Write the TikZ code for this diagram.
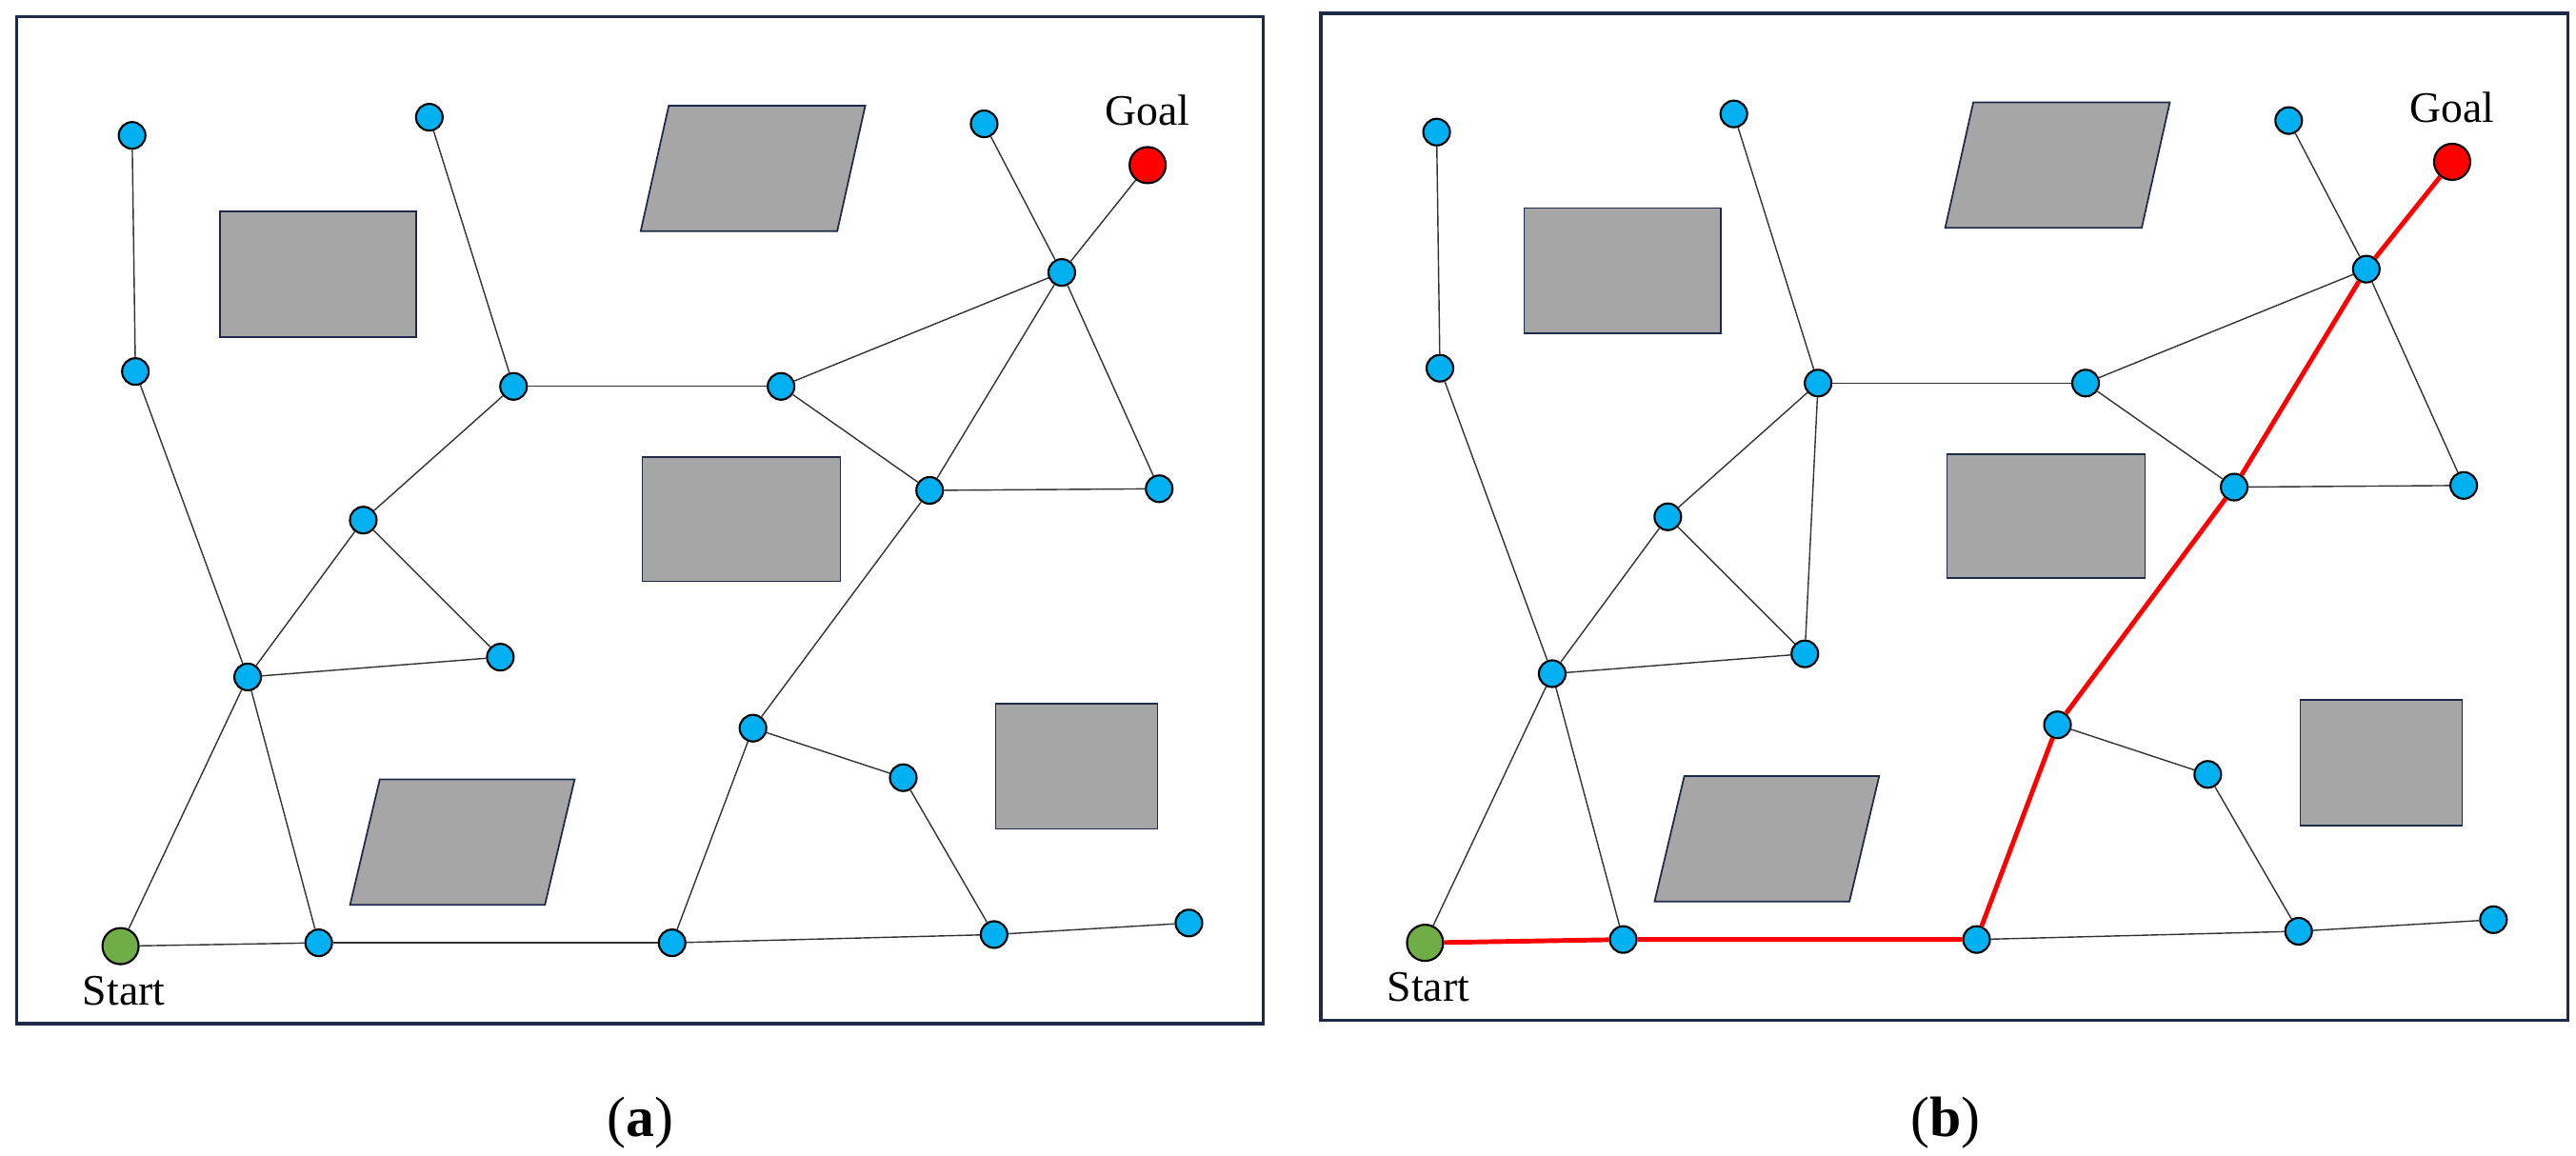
\documentclass[tikz,border=0pt]{standalone}
\usepackage{fontspec}
\setmainfont{Liberation Serif}
\definecolor{frameblue}{HTML}{1F2A4A}
\definecolor{wpblue}{HTML}{00B0F0}
\definecolor{obsgray}{HTML}{A6A6A6}
\definecolor{startgreen}{HTML}{70AD47}
\begin{document}
\begin{tikzpicture}[x=0.01734cm,y=-0.01734cm]

	\tikzstyle{frame} = [draw=frameblue,line width=1pt]
	\tikzstyle{obstacle} = [draw=frameblue,fill=obsgray,line width=0.5pt]
	\tikzstyle{waypoint} = [circle,draw=black,fill=wpblue,inner sep=0pt,minimum size=0.28cm,line width=0.6pt]
	\tikzstyle{endpoint} = [circle,draw=black,inner sep=0pt,minimum size=0.38cm,line width=0.6pt]
	\tikzstyle{edge} = [draw=black!80,line width=0.4pt]
	\tikzstyle{path} = [draw=red,line width=1.4pt]
	\tikzstyle{label} = [font=\fontsize{13}{15}\selectfont]

	\useasboundingbox (0,0) rectangle (1560,700);

	\foreach \p/\dx/\dy in {a/0/0,b/790/-2}{
		\begin{scope}[shift={(\dx,\dy)}]
			\draw[frame] (10,10) rectangle (765,620);
			% obstacles
			\draw[obstacle] (133,128) rectangle (252,204);
			\draw[obstacle] (389,277) rectangle (509,352);
			\draw[obstacle] (603,426) rectangle (701,502);
			\draw[obstacle] (405,64) -- (524,64) -- (507,140) -- (388,140) -- cycle;
			\draw[obstacle] (230,472) -- (348,472) -- (330,548) -- (212,548) -- cycle;
			% waypoints
			\foreach \i/\x/\y in {1/80/82,2/82/225,3/150/410,4/260/71,5/311/234,6/220/315,
				7/303/398,8/193/571,9/473/234,10/596/75,11/643/165,12/563/297,13/702/296,
				14/456/441,15/547/471,16/407/571,17/602/566,18/720/559}
				\node[waypoint] (\p\i) at (\x,\y) {};
			\node[endpoint,fill=startgreen] (\p S) at (73,573) {};
			\node[endpoint,fill=red] (\p G) at (695,100) {};
			\node[label] (\p start) at (75,600) {Start};
			\node[label] (\p goal) at (695,67) {Goal};
			\foreach \u/\v in {1/2,2/3,3/S,3/8,3/6,3/7,6/7,6/5,5/4,5/9,9/11,9/12,11/10,11/G,
				11/12,11/13,12/13,12/14,14/15,14/16,15/17,S/8,8/16,16/17,17/18}
				\draw[edge] (\p\u) -- (\p\v);
		\end{scope}
	}

	\draw[edge] (b5) -- (b7);
	\draw[path] (bS) -- (b8) -- (b16) -- (b14) -- (b12) -- (b11) -- (bG);

	\node[font=\fontsize{17}{20}\selectfont] (capa) at (388,680) {(\textbf{a})};
	\node[font=\fontsize{17}{20}\selectfont] (capb) at (1178,680) {(\textbf{b})};

\end{tikzpicture}
\end{document}
